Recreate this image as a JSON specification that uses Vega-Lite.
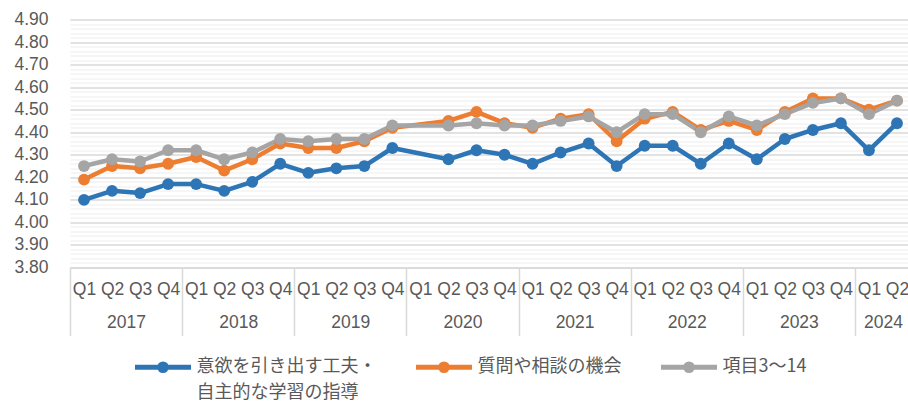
{
  "$schema": "https://vega.github.io/schema/vega-lite/v6.json",
  "width": 841,
  "height": 248,
  "autosize": {"type": "none"},
  "padding": {"left": 70, "top": 19.5, "right": 0, "bottom": 134.5},
  "background": "white",
  "config": {
    "view": {"stroke": null},
    "axis": {"labelFont": "Liberation Sans", "labelFontSize": 17.5, "labelColor": "#595959", "title": null},
    "style": {"guide-label": {"lineHeight": 26}}
  },
  "datasets": {
    "main": [
      {"q": "2017 Q1", "series": "意欲を引き出す工夫・自主的な学習の指導", "value": 4.10},
      {"q": "2017 Q2", "series": "意欲を引き出す工夫・自主的な学習の指導", "value": 4.14},
      {"q": "2017 Q3", "series": "意欲を引き出す工夫・自主的な学習の指導", "value": 4.13},
      {"q": "2017 Q4", "series": "意欲を引き出す工夫・自主的な学習の指導", "value": 4.17},
      {"q": "2018 Q1", "series": "意欲を引き出す工夫・自主的な学習の指導", "value": 4.17},
      {"q": "2018 Q2", "series": "意欲を引き出す工夫・自主的な学習の指導", "value": 4.14},
      {"q": "2018 Q3", "series": "意欲を引き出す工夫・自主的な学習の指導", "value": 4.18},
      {"q": "2018 Q4", "series": "意欲を引き出す工夫・自主的な学習の指導", "value": 4.26},
      {"q": "2019 Q1", "series": "意欲を引き出す工夫・自主的な学習の指導", "value": 4.22},
      {"q": "2019 Q2", "series": "意欲を引き出す工夫・自主的な学習の指導", "value": 4.24},
      {"q": "2019 Q3", "series": "意欲を引き出す工夫・自主的な学習の指導", "value": 4.25},
      {"q": "2019 Q4", "series": "意欲を引き出す工夫・自主的な学習の指導", "value": 4.33},
      {"q": "2020 Q2", "series": "意欲を引き出す工夫・自主的な学習の指導", "value": 4.28},
      {"q": "2020 Q3", "series": "意欲を引き出す工夫・自主的な学習の指導", "value": 4.32},
      {"q": "2020 Q4", "series": "意欲を引き出す工夫・自主的な学習の指導", "value": 4.30},
      {"q": "2021 Q1", "series": "意欲を引き出す工夫・自主的な学習の指導", "value": 4.26},
      {"q": "2021 Q2", "series": "意欲を引き出す工夫・自主的な学習の指導", "value": 4.31},
      {"q": "2021 Q3", "series": "意欲を引き出す工夫・自主的な学習の指導", "value": 4.35},
      {"q": "2021 Q4", "series": "意欲を引き出す工夫・自主的な学習の指導", "value": 4.25},
      {"q": "2022 Q1", "series": "意欲を引き出す工夫・自主的な学習の指導", "value": 4.34},
      {"q": "2022 Q2", "series": "意欲を引き出す工夫・自主的な学習の指導", "value": 4.34},
      {"q": "2022 Q3", "series": "意欲を引き出す工夫・自主的な学習の指導", "value": 4.26},
      {"q": "2022 Q4", "series": "意欲を引き出す工夫・自主的な学習の指導", "value": 4.35},
      {"q": "2023 Q1", "series": "意欲を引き出す工夫・自主的な学習の指導", "value": 4.28},
      {"q": "2023 Q2", "series": "意欲を引き出す工夫・自主的な学習の指導", "value": 4.37},
      {"q": "2023 Q3", "series": "意欲を引き出す工夫・自主的な学習の指導", "value": 4.41},
      {"q": "2023 Q4", "series": "意欲を引き出す工夫・自主的な学習の指導", "value": 4.44},
      {"q": "2024 Q1", "series": "意欲を引き出す工夫・自主的な学習の指導", "value": 4.32},
      {"q": "2024 Q2", "series": "意欲を引き出す工夫・自主的な学習の指導", "value": 4.44},
      {"q": "2017 Q1", "series": "質問や相談の機会", "value": 4.19},
      {"q": "2017 Q2", "series": "質問や相談の機会", "value": 4.25},
      {"q": "2017 Q3", "series": "質問や相談の機会", "value": 4.24},
      {"q": "2017 Q4", "series": "質問や相談の機会", "value": 4.26},
      {"q": "2018 Q1", "series": "質問や相談の機会", "value": 4.29},
      {"q": "2018 Q2", "series": "質問や相談の機会", "value": 4.23},
      {"q": "2018 Q3", "series": "質問や相談の機会", "value": 4.28},
      {"q": "2018 Q4", "series": "質問や相談の機会", "value": 4.35},
      {"q": "2019 Q1", "series": "質問や相談の機会", "value": 4.33},
      {"q": "2019 Q2", "series": "質問や相談の機会", "value": 4.33},
      {"q": "2019 Q3", "series": "質問や相談の機会", "value": 4.36},
      {"q": "2019 Q4", "series": "質問や相談の機会", "value": 4.42},
      {"q": "2020 Q2", "series": "質問や相談の機会", "value": 4.45},
      {"q": "2020 Q3", "series": "質問や相談の機会", "value": 4.49},
      {"q": "2020 Q4", "series": "質問や相談の機会", "value": 4.44},
      {"q": "2021 Q1", "series": "質問や相談の機会", "value": 4.42},
      {"q": "2021 Q2", "series": "質問や相談の機会", "value": 4.46},
      {"q": "2021 Q3", "series": "質問や相談の機会", "value": 4.48},
      {"q": "2021 Q4", "series": "質問や相談の機会", "value": 4.36},
      {"q": "2022 Q1", "series": "質問や相談の機会", "value": 4.46},
      {"q": "2022 Q2", "series": "質問や相談の機会", "value": 4.49},
      {"q": "2022 Q3", "series": "質問や相談の機会", "value": 4.41},
      {"q": "2022 Q4", "series": "質問や相談の機会", "value": 4.45},
      {"q": "2023 Q1", "series": "質問や相談の機会", "value": 4.41},
      {"q": "2023 Q2", "series": "質問や相談の機会", "value": 4.49},
      {"q": "2023 Q3", "series": "質問や相談の機会", "value": 4.55},
      {"q": "2023 Q4", "series": "質問や相談の機会", "value": 4.55},
      {"q": "2024 Q1", "series": "質問や相談の機会", "value": 4.50},
      {"q": "2024 Q2", "series": "質問や相談の機会", "value": 4.54},
      {"q": "2017 Q1", "series": "項目3〜14", "value": 4.25},
      {"q": "2017 Q2", "series": "項目3〜14", "value": 4.28},
      {"q": "2017 Q3", "series": "項目3〜14", "value": 4.27},
      {"q": "2017 Q4", "series": "項目3〜14", "value": 4.32},
      {"q": "2018 Q1", "series": "項目3〜14", "value": 4.32},
      {"q": "2018 Q2", "series": "項目3〜14", "value": 4.28},
      {"q": "2018 Q3", "series": "項目3〜14", "value": 4.31},
      {"q": "2018 Q4", "series": "項目3〜14", "value": 4.37},
      {"q": "2019 Q1", "series": "項目3〜14", "value": 4.36},
      {"q": "2019 Q2", "series": "項目3〜14", "value": 4.37},
      {"q": "2019 Q3", "series": "項目3〜14", "value": 4.37},
      {"q": "2019 Q4", "series": "項目3〜14", "value": 4.43},
      {"q": "2020 Q2", "series": "項目3〜14", "value": 4.43},
      {"q": "2020 Q3", "series": "項目3〜14", "value": 4.44},
      {"q": "2020 Q4", "series": "項目3〜14", "value": 4.43},
      {"q": "2021 Q1", "series": "項目3〜14", "value": 4.43},
      {"q": "2021 Q2", "series": "項目3〜14", "value": 4.45},
      {"q": "2021 Q3", "series": "項目3〜14", "value": 4.47},
      {"q": "2021 Q4", "series": "項目3〜14", "value": 4.40},
      {"q": "2022 Q1", "series": "項目3〜14", "value": 4.48},
      {"q": "2022 Q2", "series": "項目3〜14", "value": 4.48},
      {"q": "2022 Q3", "series": "項目3〜14", "value": 4.40},
      {"q": "2022 Q4", "series": "項目3〜14", "value": 4.47},
      {"q": "2023 Q1", "series": "項目3〜14", "value": 4.43},
      {"q": "2023 Q2", "series": "項目3〜14", "value": 4.48},
      {"q": "2023 Q3", "series": "項目3〜14", "value": 4.53},
      {"q": "2023 Q4", "series": "項目3〜14", "value": 4.55},
      {"q": "2024 Q1", "series": "項目3〜14", "value": 4.48},
      {"q": "2024 Q2", "series": "項目3〜14", "value": 4.54}
    ]
  },
  "data": {"name": "main"},
  "layer": [
    {
      "mark": {"type": "line", "strokeWidth": 4.5, "strokeJoin": "round", "point": {"filled": true, "size": 140, "opacity": 1}},
      "encoding": {
        "x": {
          "field": "q", "type": "ordinal",
          "scale": {"domain": ["2017 Q1","2017 Q2","2017 Q3","2017 Q4","2018 Q1","2018 Q2","2018 Q3","2018 Q4","2019 Q1","2019 Q2","2019 Q3","2019 Q4","2020 Q1","2020 Q2","2020 Q3","2020 Q4","2021 Q1","2021 Q2","2021 Q3","2021 Q4","2022 Q1","2022 Q2","2022 Q3","2022 Q4","2023 Q1","2023 Q2","2023 Q3","2023 Q4","2024 Q1","2024 Q2"]},
          "axis": {"orient": "bottom", "labelExpr": "substring(datum.value, 5)", "labelAngle": 0, "ticks": false, "tickSize": 0, "domain": true, "domainColor": "#d9d9d9", "domainWidth": 1.5, "grid": false, "labelPadding": 22, "labelBaseline": "middle", "labelOverlap": false}
        },
        "y": {
          "field": "value", "type": "quantitative",
          "scale": {"domain": [3.8, 4.9], "nice": false, "zero": false},
          "axis": {"orient": "left", "values": [3.8, 3.9, 4.0, 4.1, 4.2, 4.3, 4.4, 4.5, 4.6, 4.7, 4.8, 4.9], "format": ".2f", "grid": true, "gridColor": "#d9d9d9", "gridWidth": 1.5, "ticks": false, "tickSize": 0, "domain": false, "labelPadding": 22, "labelOverlap": false}
        },
        "color": {
          "field": "series", "type": "nominal",
          "scale": {"domain": ["意欲を引き出す工夫・自主的な学習の指導", "質問や相談の機会", "項目3〜14"], "range": ["#2E75B6", "#ED7D31", "#A5A5A5"]},
          "legend": {
            "orient": "none", "legendX": 62.5, "legendY": 317, "direction": "horizontal", "title": null, "padding": 0,
            "symbolType": "M-1,0H1M-0.05,0a0.05,0.05 0 1,0 0.1,0a0.05,0.05 0 1,0 -0.1,0M-0.12,0a0.12,0.12 0 1,0 0.24,0a0.12,0.12 0 1,0 -0.24,0",
            "symbolSize": 3136, "symbolStrokeWidth": 5, "symbolOpacity": 1,
            "labelFont": "Noto Sans CJK JP", "labelFontSize": 18, "labelColor": "#595959", "labelOffset": 3, "columnPadding": 29, "labelLimit": 400, "labelBaseline": "middle",
            "labelExpr": "datum.label == '意欲を引き出す工夫・自主的な学習の指導' ? ['意欲を引き出す工夫・', '自主的な学習の指導'] : [datum.label, '']"
          }
        }
      }
    },
    {
      "mark": {"type": "point", "opacity": 0},
      "encoding": {
        "x": {
          "field": "q", "type": "ordinal",
          "axis": {"orient": "bottom", "values": ["2017 Q2","2018 Q2","2019 Q2","2020 Q2","2021 Q2","2022 Q2","2023 Q2","2024 Q1"], "labelExpr": "substring(datum.value, 0, 4)", "labelOffset": 14.02, "labelPadding": 55, "labelBaseline": "middle", "labelAngle": 0, "ticks": false, "tickSize": 0, "domain": false, "grid": false, "labelOverlap": false}
        },
        "y": {
          "field": "value", "type": "quantitative",
          "axis": {"orient": "right", "values": [3.82,3.84,3.86,3.88,3.92,3.94,3.96,3.98,4.02,4.04,4.06,4.08,4.12,4.14,4.16,4.18,4.22,4.24,4.26,4.28,4.32,4.34,4.36,4.38,4.42,4.44,4.46,4.48,4.52,4.54,4.56,4.58,4.62,4.64,4.66,4.68,4.72,4.74,4.76,4.78,4.82,4.84,4.86,4.88], "grid": true, "gridColor": "#eeeeee", "gridWidth": 1.2, "labels": false, "ticks": false, "domain": false}
        }
      }
    },
    {
      "mark": {"type": "point", "opacity": 0},
      "encoding": {
        "x": {
          "field": "q", "type": "ordinal",
          "axis": {"orient": "bottom", "values": ["2017 Q1","2018 Q1","2019 Q1","2020 Q1","2021 Q1","2022 Q1","2023 Q1","2024 Q1"], "labels": false, "ticks": true, "tickSize": 68, "tickOffset": -14.02, "tickColor": "#d9d9d9", "tickWidth": 1.5, "domain": false, "grid": false}
        }
      }
    }
  ],
  "resolve": {"axis": {"x": "independent", "y": "independent"}}
}
